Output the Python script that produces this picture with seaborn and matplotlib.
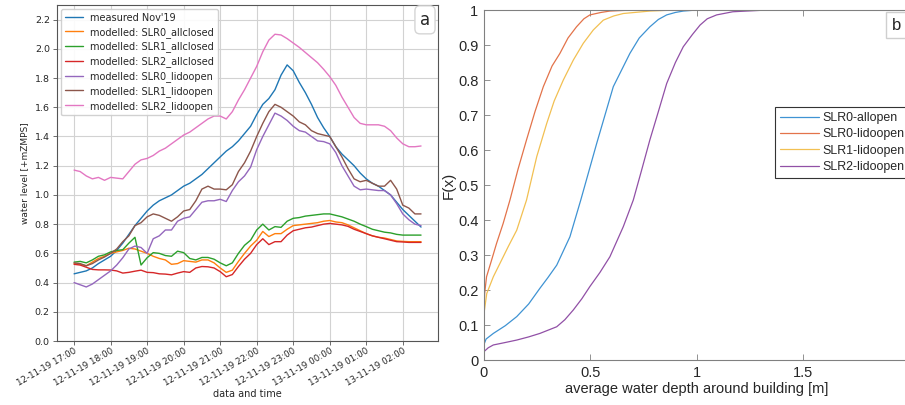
import numpy as np
import pandas as pd
import matplotlib
matplotlib.use("Agg")
import matplotlib.pyplot as plt
import matplotlib.dates as mdates
from matplotlib.ticker import FuncFormatter, MultipleLocator, FixedLocator
import seaborn as sns

# ------------------------------
# Panel a: water level, 10 min steps from 12-11-19 17:00
# ------------------------------
START = "2019-11-12 17:00"
N_STEPS = 58

measured = [0.46, 0.47, 0.48, 0.50, 0.53, 0.555, 0.58, 0.62, 0.67, 0.73,
            0.79, 0.84, 0.89, 0.93, 0.96, 0.98, 1.00, 1.03, 1.06, 1.08,
            1.11, 1.14, 1.18, 1.22, 1.26, 1.30, 1.33, 1.37, 1.42, 1.47,
            1.55, 1.62, 1.66, 1.72, 1.82, 1.89, 1.85, 1.77, 1.70, 1.62,
            1.53, 1.46, 1.40, 1.33, 1.28, 1.24, 1.20, 1.15, 1.11, 1.08,
            1.06, 1.03, 1.00, 0.95, 0.90, 0.86, 0.82, 0.78]
slr0_closed = [0.53, 0.525, 0.515, 0.54, 0.565, 0.58, 0.60, 0.61, 0.62, 0.635,
               0.63, 0.615, 0.60, 0.58, 0.565, 0.555, 0.525, 0.53, 0.55, 0.545,
               0.54, 0.555, 0.555, 0.535, 0.50, 0.47, 0.485, 0.545, 0.60, 0.65,
               0.69, 0.75, 0.715, 0.735, 0.735, 0.765, 0.79, 0.795, 0.80, 0.805,
               0.81, 0.82, 0.825, 0.815, 0.81, 0.795, 0.775, 0.755, 0.735, 0.72,
               0.71, 0.705, 0.695, 0.685, 0.682, 0.68, 0.68, 0.68]
slr1_closed = [0.54, 0.545, 0.535, 0.555, 0.58, 0.59, 0.61, 0.62, 0.625, 0.67,
               0.71, 0.52, 0.57, 0.605, 0.60, 0.585, 0.58, 0.615, 0.605, 0.565,
               0.555, 0.572, 0.572, 0.56, 0.535, 0.515, 0.535, 0.60, 0.655, 0.69,
               0.76, 0.80, 0.76, 0.783, 0.778, 0.82, 0.84, 0.845, 0.855, 0.86,
               0.865, 0.87, 0.87, 0.86, 0.85, 0.835, 0.82, 0.80, 0.783, 0.765,
               0.755, 0.745, 0.74, 0.73, 0.725, 0.725, 0.725, 0.725]
slr2_closed = [0.525, 0.52, 0.505, 0.49, 0.487, 0.487, 0.486, 0.48, 0.465, 0.47,
               0.478, 0.485, 0.47, 0.468, 0.46, 0.458, 0.453, 0.465, 0.475, 0.47,
               0.50, 0.51, 0.508, 0.50, 0.475, 0.44, 0.455, 0.51, 0.56, 0.60,
               0.66, 0.70, 0.66, 0.68, 0.68, 0.725, 0.755, 0.765, 0.775, 0.78,
               0.79, 0.80, 0.805, 0.80, 0.795, 0.785, 0.765, 0.75, 0.735, 0.72,
               0.71, 0.70, 0.69, 0.68, 0.678, 0.675, 0.675, 0.675]
slr0_lido = [0.40, 0.385, 0.37, 0.39, 0.42, 0.45, 0.48, 0.52, 0.57, 0.63,
             0.65, 0.64, 0.60, 0.70, 0.72, 0.76, 0.76, 0.82, 0.84, 0.85,
             0.90, 0.95, 0.96, 0.96, 0.97, 0.955, 1.03, 1.09, 1.13, 1.19,
             1.31, 1.40, 1.48, 1.56, 1.54, 1.51, 1.47, 1.44, 1.43, 1.40,
             1.37, 1.365, 1.35, 1.29, 1.20, 1.13, 1.06, 1.035, 1.04, 1.035,
             1.03, 1.03, 1.00, 0.94, 0.87, 0.83, 0.80, 0.79]
slr1_lido = [0.535, 0.53, 0.515, 0.53, 0.555, 0.575, 0.60, 0.63, 0.68, 0.72,
             0.79, 0.81, 0.85, 0.87, 0.86, 0.84, 0.82, 0.85, 0.89, 0.90,
             0.96, 1.04, 1.06, 1.04, 1.04, 1.035, 1.07, 1.16, 1.22, 1.30,
             1.40, 1.49, 1.57, 1.62, 1.60, 1.57, 1.54, 1.50, 1.48, 1.44,
             1.42, 1.41, 1.40, 1.33, 1.26, 1.18, 1.11, 1.09, 1.10, 1.08,
             1.06, 1.06, 1.10, 1.04, 0.93, 0.91, 0.87, 0.87]
slr2_lido = [1.17, 1.16, 1.13, 1.11, 1.12, 1.10, 1.12, 1.115, 1.11, 1.16,
             1.21, 1.24, 1.25, 1.27, 1.30, 1.32, 1.35, 1.38, 1.41, 1.43,
             1.46, 1.49, 1.52, 1.54, 1.54, 1.52, 1.57, 1.65, 1.72, 1.80,
             1.88, 1.98, 2.06, 2.10, 2.095, 2.07, 2.04, 2.01, 1.975, 1.94,
             1.905, 1.86, 1.81, 1.75, 1.67, 1.60, 1.53, 1.49, 1.48, 1.48,
             1.48, 1.47, 1.44, 1.39, 1.35, 1.33, 1.33, 1.335]

series_a = {
    "measured Nov'19": measured,
    "modelled: SLR0_allclosed": slr0_closed,
    "modelled: SLR1_allclosed": slr1_closed,
    "modelled: SLR2_allclosed": slr2_closed,
    "modelled: SLR0_lidoopen": slr0_lido,
    "modelled: SLR1_lidoopen": slr1_lido,
    "modelled: SLR2_lidoopen": slr2_lido,
}

# ------------------------------
# Panel b: empirical CDFs of water depth around buildings
# ------------------------------
x_slr0_all = [0, 0, 0.01, 0.044, 0.10, 0.154, 0.21, 0.263, 0.30, 0.342, 0.404,
              0.455, 0.53, 0.608, 0.686, 0.73, 0.78, 0.82, 0.859, 0.9, 0.937, 1.0, 2.0]
F_slr0_all = [0, 0.045, 0.06, 0.076, 0.098, 0.124, 0.16, 0.205, 0.235, 0.271, 0.352,
              0.457, 0.619, 0.781, 0.876, 0.92, 0.952, 0.973, 0.986, 0.993, 0.997, 1.0, 1.0]
x_slr0_lido = [0, 0, 0.003, 0.012, 0.036, 0.059, 0.09, 0.122, 0.16, 0.2, 0.24,
               0.279, 0.32, 0.357, 0.395, 0.435, 0.47, 0.498, 0.55, 0.592, 0.7, 2.0]
F_slr0_lido = [0, 0.13, 0.19, 0.238, 0.286, 0.333, 0.39, 0.457, 0.545, 0.629, 0.71,
               0.781, 0.84, 0.876, 0.92, 0.952, 0.975, 0.986, 0.993, 0.997, 1.0, 1.0]
x_slr1_lido = [0, 0, 0.013, 0.044, 0.075, 0.114, 0.154, 0.2, 0.248, 0.295, 0.33,
               0.373, 0.42, 0.467, 0.514, 0.561, 0.61, 0.655, 0.78, 0.9, 2.0]
F_slr1_lido = [0, 0.133, 0.19, 0.238, 0.276, 0.324, 0.371, 0.457, 0.581, 0.676, 0.74,
               0.8, 0.857, 0.905, 0.943, 0.971, 0.983, 0.99, 0.997, 1.0, 1.0]
x_slr2_lido = [0, 0, 0.02, 0.044, 0.1, 0.154, 0.21, 0.263, 0.342, 0.38, 0.42, 0.46,
               0.498, 0.545, 0.592, 0.655, 0.702, 0.74, 0.78, 0.82, 0.859, 0.9,
               0.937, 0.98, 1.016, 1.05, 1.094, 1.17, 1.3, 2.0]
F_slr2_lido = [0, 0.024, 0.035, 0.043, 0.05, 0.057, 0.066, 0.076, 0.095, 0.115, 0.143,
               0.175, 0.21, 0.25, 0.295, 0.381, 0.457, 0.54, 0.629, 0.71, 0.79, 0.85,
               0.895, 0.93, 0.957, 0.975, 0.986, 0.995, 0.999, 1.0]

cdf_names = ["SLR0-allopen", "SLR0-lidoopen", "SLR1-lidoopen", "SLR2-lidoopen"]
cdf_x = [x_slr0_all, x_slr0_lido, x_slr1_lido, x_slr2_lido]
cdf_F = [F_slr0_all, F_slr0_lido, F_slr1_lido, F_slr2_lido]
cdf_colors = ["#3f93d3", "#e3734a", "#f2c052", "#9150a6"]
cdf_xticks = [0, 0.5, 1, 1.5]

# ------------------------------
# Figure
# ------------------------------
sns.set_theme(style="whitegrid")
plt.rcParams["font.family"] = ["DejaVu Sans"]

fig = plt.figure(figsize=(9.05, 4.05), dpi=100)

# ---- panel a ----
times = pd.date_range(START, periods=N_STEPS, freq="10min")
df_a = pd.DataFrame(series_a)
df_a["time"] = times
long_a = df_a.melt(id_vars="time", var_name="series", value_name="level")

ax1 = fig.add_axes([0.0627, 0.158, 0.4217, 0.8296])
sns.lineplot(data=long_a, x="time", y="level", hue="series",
             palette=sns.color_palette("tab10", 7), linewidth=1.0, ax=ax1)

ax1.set_ylim(0, 2.3)
ax1.yaxis.set_major_locator(MultipleLocator(0.2))
ax1.yaxis.set_major_formatter(FuncFormatter(lambda v, p: f"{v:.1f}"))
ax1.xaxis.set_major_locator(mdates.HourLocator())
ax1.xaxis.set_major_formatter(mdates.DateFormatter("%d-%m-%y %H:%M"))
ax1.margins(x=0.05)
ax1.grid(True, color="#d2d2d2", linewidth=0.8)
for s in ax1.spines.values():
    s.set_color("#555555")
    s.set_linewidth(0.8)
ax1.tick_params(axis="both", length=3, width=0.6, color="#555555",
                pad=2, bottom=True, left=True)
ax1.tick_params(axis="y", labelsize=6.8)
ax1.tick_params(axis="x", labelsize=6.3, pad=1)
plt.setp(ax1.get_xticklabels(), rotation=30, ha="right", rotation_mode="anchor")
ax1.set_xlabel("data and time", fontsize=7, labelpad=1)
ax1.set_ylabel("water level [+mZMPS]", fontsize=6.5, labelpad=4)

handles, labels = ax1.get_legend_handles_labels()
ax1.legend(handles, labels, loc="upper left", fontsize=7, frameon=True,
           framealpha=0.9, borderaxespad=0.4, handlelength=1.9,
           handletextpad=0.7, labelspacing=0.4)
fig.text(0.4696, 0.951, "a", fontsize=12, ha="center", va="center",
         bbox=dict(boxstyle="round,pad=0.3", facecolor="white", edgecolor="#d5d5d5"))

# ---- panel b ----
rows = []
for name, xs, fs in zip(cdf_names, cdf_x, cdf_F):
    rows.append(pd.DataFrame({"depth": xs, "F": fs, "scenario": name}))
long_b = pd.concat(rows, ignore_index=True)

ax2 = fig.add_axes([0.5348, 0.1111, 0.47, 0.8642])
sns.lineplot(data=long_b, x="depth", y="F", hue="scenario", estimator=None,
             palette=dict(zip(cdf_names, cdf_colors)), linewidth=0.9, ax=ax2)
ax2.set_facecolor("white")
ax2.grid(False)
ax2.set_xlim(0, 2)
ax2.set_ylim(0, 1)
ax2.xaxis.set_major_locator(FixedLocator(cdf_xticks))
ax2.yaxis.set_major_locator(MultipleLocator(0.1))
ax2.xaxis.set_major_formatter(FuncFormatter(lambda v, p: f"{v:g}"))
ax2.yaxis.set_major_formatter(FuncFormatter(lambda v, p: f"{v:g}"))
for s in ax2.spines.values():
    s.set_color("#808080")
    s.set_linewidth(0.8)
ax2.tick_params(axis="both", direction="in", length=4, width=0.6, color="#808080",
                labelsize=10.5, labelcolor="#262626", top=True, bottom=True,
                left=True, right=False, pad=4, labelfontfamily="Liberation Sans")
ax2.set_xlabel("average water depth around building [m]", fontsize=10.5,
               family="Liberation Sans", color="#262626", labelpad=2)
ax2.set_ylabel("F(x)", fontsize=11, family="Liberation Sans", color="#262626",
               labelpad=2)

handles, labels = ax2.get_legend_handles_labels()
leg = ax2.legend(handles, labels, loc="upper left", bbox_to_anchor=(0.685, 0.723),
                 borderaxespad=0, fancybox=False, framealpha=1, handlelength=3.1,
                 handletextpad=0.3, borderpad=0.4, labelspacing=0.35,
                 prop={"family": "Liberation Sans", "size": 8.9})
leg.get_frame().set_edgecolor("#333333")
leg.get_frame().set_linewidth(0.8)

fig.text(0.991, 0.938, "b", fontsize=12, ha="center", va="center",
         family="Liberation Sans",
         bbox=dict(boxstyle="square,pad=0.35", facecolor="white", edgecolor="#cfcfcf"))

fig.savefig("out.png", dpi=100)
